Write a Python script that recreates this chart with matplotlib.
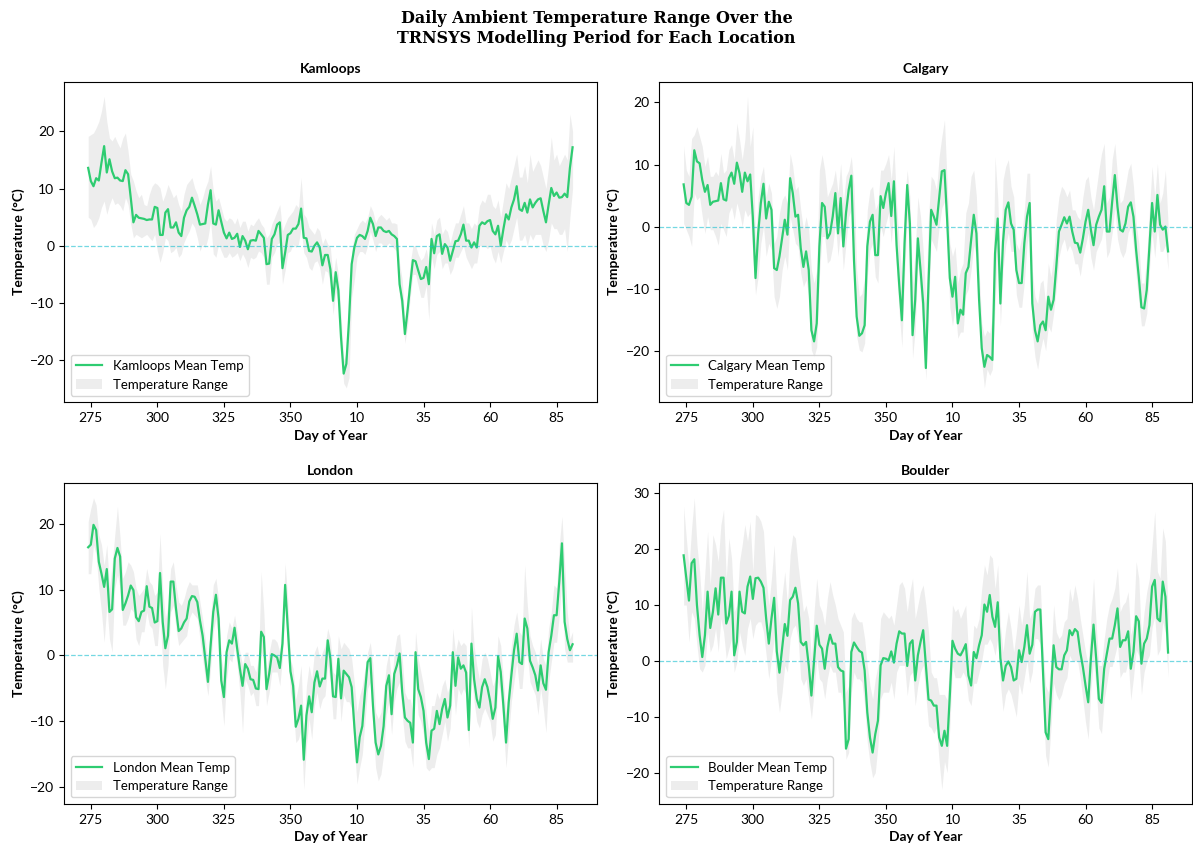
import matplotlib
matplotlib.use("Agg")
import matplotlib.pyplot as plt

plt.rcParams["font.family"] = ["Lato", "DejaVu Sans"]

####################################################
# Data (daily values, day 274 -> day 456)
####################################################

days = list(range(274, 457))

tick_pos = [275, 300, 325, 350, 375, 400, 425, 450]
tick_labels = ["275", "300", "325", "350", "10", "35", "60", "85"]

kamloops_mean = [
    13.6, 11.3, 10.4, 11.8, 11.4, 14.5, 17.4, 12.8, 15.1, 13.0,
    11.8, 11.9, 11.4, 11.3, 13.2, 12.5, 8.4, 4.1, 5.4, 4.9,
    4.8, 4.7, 4.5, 4.6, 4.6, 6.8, 6.6, 1.9, 1.9, 5.8,
    6.4, 3.2, 3.2, 4.1, 2.3, 1.7, 4.9, 6.2, 6.8, 8.4,
    7.0, 5.5, 3.7, 3.8, 3.9, 7.2, 9.7, 3.9, 3.7, 6.2,
    4.2, 2.3, 1.3, 2.3, 1.2, 1.4, 2.1, -0.2, 1.7, 0.9,
    -0.6, 0.9, 1.0, 0.9, 2.6, 2.0, 1.4, -3.2, -3.1, 1.2,
    2.0, 3.7, 4.1, -3.9, -1.2, 1.9, 2.2, 3.0, 3.0, 3.8,
    6.5, 1.4, 1.3, -0.9, -1.0, 0.0, 0.6, -0.3, -3.4, -1.6,
    -1.6, -4.1, -9.6, -4.6, -7.8, -16.0, -22.3, -20.6, -13.0, -3.2,
    -0.3, 1.4, 1.9, 1.7, 1.2, 2.6, 4.9, 3.8, 1.7, 3.2,
    3.2, 2.6, 2.4, 2.6, 2.0, 1.7, 1.2, -6.7, -9.6, -15.4,
    -11.3, -6.7, -2.5, -2.7, -4.3, -5.8, -5.6, -3.7, -6.7, 1.2,
    -1.3, 1.7, 2.0, -1.4, 0.3, -0.3, -2.6, -0.9, 0.8, 0.9,
    2.0, 3.7, 0.9, 0.9, -0.3, 0.6, -0.3, 3.5, 4.1, 3.8,
    4.3, 4.5, 2.6, 2.0, 3.5, 0.0, 2.9, 5.5, 4.6, 6.7,
    8.1, 10.4, 6.4, 6.1, 7.5, 5.8, 8.1, 6.7, 7.5, 8.1,
    8.3, 6.1, 4.1, 7.2, 10.1, 8.7, 9.3, 8.4, 8.5, 9.1,
    8.5, 13.6, 17.2,
]
kamloops_hi = [
    19.1, 19.4, 19.7, 20.6, 21.7, 23.5, 26.1, 21.7, 18.8, 18.3,
    19.1, 18.0, 17.1, 18.8, 19.7, 16.5, 12.5, 11.3, 9.6, 8.4,
    9.0, 7.2, 7.0, 9.0, 10.4, 11.0, 10.7, 10.1, 7.8, 9.0,
    10.7, 9.6, 8.4, 9.0, 7.2, 6.1, 9.0, 10.7, 11.3, 11.9,
    10.1, 9.0, 7.2, 8.4, 10.1, 11.3, 13.9, 9.6, 7.8, 8.4,
    6.7, 4.9, 4.3, 4.9, 4.6, 3.8, 4.9, 3.2, 4.3, 4.3,
    2.6, 3.8, 3.5, 4.3, 4.9, 3.8, 3.2, 1.4, 2.0, 3.8,
    4.9, 6.1, 7.2, 2.6, 3.8, 4.9, 5.5, 6.1, 7.2, 6.7,
    11.9, 5.5, 4.9, 3.2, 2.6, 2.0, 3.2, 2.6, 0.3, 1.4,
    0.3, -0.3, -5.5, -2.0, -5.0, -12.0, -20.0, -18.5, -10.0, -1.0,
    2.0, 3.0, 4.0, 4.5, 4.0, 5.0, 7.0, 6.0, 4.0, 5.0,
    5.5, 5.0, 4.5, 5.0, 4.0, 4.0, 3.8, -3.0, -6.0, -13.0,
    -8.0, -3.0, 0.0, 0.0, -1.5, -2.5, -2.0, -0.5, -3.0, 4.0,
    2.0, 4.5, 5.0, 2.0, 3.0, 2.5, 0.5, 2.5, 4.0, 4.0,
    5.5, 7.0, 4.0, 4.0, 3.0, 4.0, 3.5, 7.0, 8.0, 7.5,
    9.0, 9.0, 7.0, 6.5, 8.0, 5.0, 8.0, 11.0, 10.0, 12.0,
    14.0, 16.0, 12.0, 12.0, 14.0, 11.0, 16.0, 13.0, 14.0, 15.0,
    14.0, 12.0, 10.0, 14.0, 19.0, 15.0, 16.0, 14.0, 15.0, 16.0,
    15.0, 23.0, 20.0,
]
kamloops_lo = [
    5.0, 4.6, 3.2, 3.8, 4.9, 6.7, 7.8, 5.5, 7.2, 8.4,
    7.2, 7.5, 7.0, 6.1, 8.4, 7.2, 3.8, 1.4, 2.0, 1.7,
    1.4, 1.7, 2.0, 1.4, 0.9, 2.0, -0.9, -2.9, -1.2, 1.4,
    0.9, -1.2, -0.9, -0.3, -2.0, -1.4, 0.6, 1.7, 2.6, 4.0,
    3.2, 1.4, -0.9, 0.3, -0.3, 1.4, 4.3, -1.4, -2.0, 0.3,
    -0.9, -2.0, -2.0, -1.2, -2.0, -1.7, -1.2, -2.6, -1.4, -2.3,
    -3.8, -2.0, -2.3, -2.0, -0.9, -1.2, -2.0, -6.7, -6.7, -2.0,
    -1.2, 0.3, 0.6, -6.7, -4.3, -1.2, -0.9, 0.3, -0.3, 0.3,
    3.2, -1.2, -2.0, -3.8, -4.3, -2.9, -2.6, -3.8, -6.7, -4.3,
    -4.6, -6.7, -12.0, -8.0, -10.0, -18.0, -24.0, -24.8, -23.0, -9.0,
    -6.0, -2.0, -1.0, -1.0, -1.5, 0.0, 2.5, 1.0, -1.0, 0.5,
    0.5, 0.0, 0.0, 0.5, 0.0, -0.5, -1.0, -9.0, -12.0, -17.0,
    -14.0, -9.0, -5.0, -5.0, -7.0, -9.0, -9.0, -7.0, -13.0, -2.0,
    -4.0, -1.5, -1.0, -4.0, -3.0, -3.0, -5.0, -4.0, -2.0, -2.0,
    -1.0, 0.0, -2.0, -3.0, -4.0, -3.0, -3.0, 0.0, 0.0, 0.0,
    -0.5, 0.0, -2.0, -3.0, -1.0, -3.0, -1.0, 1.0, 0.0, 1.0,
    3.0, 5.0, 1.0, 1.0, 2.0, 0.0, 2.0, 1.0, 2.0, 2.0,
    2.0, 0.0, -1.0, 1.0, 4.0, 3.0, 3.0, 2.0, 2.0, 3.0,
    -1.0, 5.0, 10.0,
]

calgary_mean = [
    6.8, 3.8, 3.5, 4.8, 12.3, 10.5, 10.2, 7.5, 5.6, 6.7,
    3.5, 4.0, 4.1, 4.2, 7.0, 4.4, 4.2, 7.8, 8.7, 6.9,
    10.3, 8.6, 5.6, 8.7, 7.3, 8.4, 1.5, -8.3, -1.1, 3.8,
    6.9, 1.3, 4.0, 2.7, -6.7, -7.0, -4.8, -1.9, 1.1, -1.3,
    7.8, 5.4, 1.6, 1.9, -3.5, -6.5, -4.0, -7.0, -16.7, -18.5,
    -15.6, -3.2, 3.8, 3.2, -1.9, -1.1, 1.6, 5.4, -1.1, 4.6,
    -3.2, 2.2, 5.9, 8.2, -5.4, -14.5, -17.6, -17.2, -15.9, -3.2,
    0.8, 1.9, -4.6, -4.6, 4.9, 3.0, 5.4, 7.0, 1.7, 7.3,
    -3.0, -9.4, -15.1, -2.7, 6.7, 0.5, -17.5, -11.8, -1.9, -7.0,
    -12.4, -22.8, -9.1, 2.7, 1.6, 0.3, 4.6, 8.9, 9.1, 1.1,
    -8.3, -11.3, -8.1, -15.6, -13.4, -14.2, -7.5, -6.5, -2.2, 1.9,
    -1.1, -11.8, -19.6, -22.6, -20.7, -21.0, -21.5, -4.3, 1.3, -12.4,
    -2.4, 2.7, 3.9, 0.5, -0.5, -7.0, -9.1, -9.1, -2.7, 1.6,
    3.8, -12.4, -16.7, -18.5, -15.9, -15.3, -16.7, -11.3, -13.4, -11.8,
    -6.5, -0.8, 0.3, 1.5, 0.5, 1.6, -0.8, -2.6, -2.7, -4.2,
    -1.9, 0.8, 2.7, -0.5, -3.0, 0.3, 1.6, 2.7, 6.5, -0.8,
    -0.8, 4.0, 8.3, 3.2, -0.5, -0.8, 0.5, 3.2, 3.9, 1.6,
    -3.8, -8.1, -13.0, -13.2, -10.2, -3.2, 3.8, -0.8, 5.1, 0.3,
    -0.5, 0.0, -4.0,
]
calgary_hi = [
    13.0, 9.1, 8.1, 14.2, 14.8, 16.1, 14.5, 12.9, 9.7, 11.3,
    8.1, 8.1, 8.9, 8.2, 11.8, 8.6, 9.1, 12.4, 13.2, 10.8,
    16.7, 14.0, 10.8, 14.0, 21.0, 12.9, 16.1, -2.7, 4.8, 8.1,
    9.7, 4.8, 7.0, 5.4, -2.7, -1.6, 2.2, 4.3, 5.1, 3.8,
    11.8, 9.7, 5.9, 6.5, 2.7, -0.5, 1.6, -0.5, -7.0, -9.1,
    -7.0, 9.1, 11.6, 9.1, 4.8, 5.9, 7.0, 9.1, 5.4, 10.2,
    3.8, 8.1, 9.1, 11.3, 6.5, -7.0, -11.3, -10.8, -8.1, 2.7,
    5.9, 6.5, 2.7, 3.8, 9.1, 9.1, 10.2, 11.6, 7.5, 12.9,
    3.8, -2.7, -8.1, 4.3, 9.1, 4.8, -9.1, -3.8, 4.8, 1.6,
    -3.8, -11.8, 1.6, 8.1, 7.5, 5.9, 11.3, 14.5, 17.2, 7.0,
    -2.7, -4.8, -3.2, -9.1, -7.0, -5.9, 2.2, 3.8, 8.1, 9.1,
    4.8, -7.0, -15.6, -17.7, -16.7, -17.2, -14.5, 11.3, 4.8, -7.0,
    7.5, 9.7, 10.8, 6.5, 4.8, -2.7, -3.8, -1.6, 2.7, 8.6,
    8.6, -7.0, -11.3, -12.4, -9.1, -8.6, -12.4, -5.9, -8.1, -4.8,
    1.1, 4.8, 6.5, 5.9, 4.8, 5.9, 2.7, 2.7, 1.6, 1.1,
    4.8, 7.5, 8.1, 4.8, 2.7, 5.9, 9.1, 11.8, 13.4, 3.8,
    4.8, 10.8, 13.4, 8.1, 3.8, 4.3, 6.5, 9.1, 10.2, 6.5,
    0.5, -2.7, -9.1, -9.1, -4.8, 2.7, 9.7, 4.8, 10.2, 3.8,
    5.4, 9.1, 0.5,
]
calgary_lo = [
    0.5, -0.5, -1.6, -3.2, 5.4, 4.3, 4.8, 1.6, -1.1, 1.6,
    -0.5, -0.5, -1.6, -3.0, 0.5, -0.5, -1.6, 2.2, 3.2, 1.1,
    3.8, 2.2, 0.0, 2.7, 1.6, 2.2, -4.8, -11.0, -8.1, -2.7,
    0.0, -4.8, -2.7, -3.8, -11.3, -13.2, -11.3, -7.0, -4.8, -7.0,
    1.6, -0.5, -2.7, -3.2, -7.5, -9.7, -8.6, -11.3, -19.9, -21.0,
    -19.4, -8.1, -1.6, -1.6, -5.9, -5.4, -3.2, 0.5, -4.8, -0.5,
    -7.0, -2.7, 1.6, 2.7, -9.1, -17.7, -19.9, -20.2, -18.8, -8.1,
    -3.8, -2.7, -8.1, -9.1, 0.0, -1.6, 0.5, 2.2, -2.7, 2.7,
    -7.0, -14.0, -19.4, -8.1, 1.6, -4.8, -21.2, -16.7, -5.9, -11.3,
    -16.7, -24.7, -13.4, -2.0, -3.0, -4.0, 0.0, 3.0, 4.0, -3.0,
    -13.0, -16.0, -13.0, -18.0, -17.0, -17.0, -11.0, -10.0, -7.0, -3.0,
    -5.0, -15.0, -22.0, -26.0, -23.0, -24.0, -23.0, -13.0, -3.0, -16.0,
    -7.0, -3.0, -1.0, -4.0, -4.0, -11.0, -13.0, -13.0, -9.0, -3.0,
    0.0, -17.0, -21.0, -23.0, -20.0, -18.0, -20.0, -16.0, -17.0, -14.0,
    -10.0, -5.0, -3.0, -2.0, -4.0, -3.0, -4.0, -6.0, -6.0, -8.0,
    -5.0, -3.0, -1.0, -5.0, -7.0, -4.0, -3.0, -2.0, 1.0, -5.0,
    -4.0, -1.0, 3.0, -2.0, -4.0, -5.0, -4.0, -1.0, 0.0, -3.0,
    -8.0, -12.0, -16.0, -16.0, -14.0, -7.0, -1.0, -5.0, 0.0, -4.0,
    -4.0, -3.0, -7.0,
]

london_mean = [
    16.4, 16.8, 19.8, 19.0, 14.2, 12.4, 10.4, 13.1, 6.6, 7.0,
    14.7, 16.3, 15.0, 6.9, 7.9, 9.1, 10.6, 9.9, 5.8, 5.2,
    6.6, 6.8, 10.5, 7.4, 7.2, 5.0, 5.2, 12.5, 5.1, 1.1,
    3.0, 11.2, 11.2, 7.1, 3.7, 4.1, 5.0, 5.6, 8.2, 9.0,
    8.9, 8.1, 5.3, 3.0, -0.5, -4.0, 1.5, 6.6, 9.2, 5.6,
    -3.8, -6.3, 0.5, 2.3, 1.8, 4.2, 1.0, -2.0, -4.6, -1.3,
    -2.0, -3.6, -3.7, -5.0, -5.1, 3.6, 2.8, -5.1, -2.8, 0.2,
    0.0, -0.3, -1.9, 1.8, 10.7, 4.1, -2.4, -4.6, -10.8, -9.6,
    -7.6, -15.8, -9.1, -6.2, -8.6, -4.1, -2.4, -4.7, -3.5, -3.5,
    2.3, -0.5, -6.2, -6.3, -0.5, -6.5, -2.3, -2.8, -3.3, -4.8,
    -10.7, -16.2, -12.4, -10.7, -5.6, -1.0, -0.4, -7.6, -13.2, -15.0,
    -13.7, -10.7, -4.6, -3.0, -8.9, -2.8, -1.5, 0.3, -5.6, -9.4,
    -9.9, -10.2, -13.2, 0.5, -5.1, -6.3, -8.4, -13.2, -15.7, -11.4,
    -11.1, -8.4, -10.4, -8.1, -6.6, -9.4, -7.6, 0.5, -4.6, -0.3,
    -2.0, -1.5, -2.6, -11.3, 1.8, -3.6, -6.6, -7.9, -4.8, -3.6,
    -4.8, -6.9, -9.6, -7.9, -0.1, -2.5, -7.6, -13.2, -7.1, -3.0,
    0.8, 3.3, -1.0, -1.3, 5.6, 4.1, -0.8, -1.8, -3.0, -5.3,
    -1.5, -4.2, -5.2, 0.5, 3.0, 6.1, 6.1, 11.2, 17.0, 5.1,
    2.5, 0.8, 1.7,
]
london_hi = [
    20.3, 22.3, 23.9, 22.8, 18.3, 16.8, 13.7, 16.8, 10.2, 13.7,
    18.3, 22.6, 17.8, 11.7, 12.7, 14.2, 13.7, 12.7, 10.2, 9.1,
    9.6, 10.2, 13.2, 11.2, 10.7, 9.1, 9.6, 18.5, 10.2, 5.6,
    7.6, 13.2, 14.2, 10.7, 8.1, 7.6, 8.6, 10.2, 11.2, 10.7,
    10.7, 10.7, 8.1, 5.6, 2.5, -1.5, 5.6, 10.7, 11.7, 8.6,
    -0.5, -2.5, 3.0, 5.1, 4.1, 6.1, 3.6, 0.5, -1.5, 0.5,
    0.5, -1.5, -1.5, -2.5, -0.5, 12.7, 6.6, -2.5, 0.5, 2.5,
    2.5, 2.0, 0.5, 5.1, 14.0, 8.6, -0.5, -2.0, -6.6, -4.6,
    -1.5, -11.7, -4.6, -1.5, -3.6, 0.5, 1.5, -0.5, 0.5, 1.5,
    4.1, 2.5, -2.5, -3.0, 3.0, 1.0, 2.0, 1.5, 1.0, -0.5,
    -4.1, -8.6, -6.1, -4.6, -2.0, 0.5, 2.0, -1.5, -8.6, -9.6,
    -8.6, -5.6, -1.5, 0.5, -4.6, 0.5, 3.0, 3.3, -0.5, -5.6,
    -6.6, -6.6, -8.6, 3.6, -0.5, -2.5, -4.6, -8.6, -11.7, -7.6,
    -7.6, -5.6, -6.6, -4.6, -3.6, -5.6, -4.6, 4.1, 0.5, 2.5,
    1.5, 2.0, 1.5, -6.6, 7.4, 1.5, -1.5, -3.6, -0.5, 0.5,
    -0.5, -2.5, -4.6, -3.6, 3.0, 1.5, -3.6, -8.6, -3.6, 1.5,
    4.6, 6.6, 3.6, 3.0, 13.7, 7.6, 3.0, 1.5, 0.5, -1.5,
    2.5, -0.5, -1.5, 4.1, 6.6, 10.7, 10.2, 16.8, 21.1, 14.0,
    6.6, 2.5, 3.6,
]
london_lo = [
    12.4, 12.4, 16.8, 15.2, 10.2, 6.6, 2.0, 7.6, 2.5, 0.5,
    10.2, 12.2, 10.2, 4.6, 4.6, 5.6, 7.1, 6.6, 2.5, 1.5,
    3.6, 3.6, 6.6, 4.6, 4.1, 1.5, 1.5, 6.6, -1.5, -5.1,
    -1.5, 6.6, 7.6, 4.1, 1.5, 2.0, 2.5, 3.0, 5.6, 6.6,
    6.1, 5.6, 2.5, -0.5, -3.6, -6.1, -2.0, 3.6, 5.6, 2.5,
    -6.6, -10.7, -3.6, -0.5, -1.0, 1.5, -1.5, -5.6, -11.7, -3.6,
    -4.6, -6.1, -5.6, -7.6, -7.6, 0.5, -0.5, -7.6, -5.6, -2.5,
    -2.5, -2.5, -4.6, -0.5, 7.6, 0.5, -5.6, -7.6, -13.2, -12.7,
    -11.2, -20.3, -13.7, -9.6, -12.7, -7.6, -5.6, -8.1, -6.6, -6.1,
    -1.5, -4.1, -9.6, -9.6, -3.6, -10.0, -6.0, -7.0, -7.0, -8.0,
    -14.0, -19.5, -17.0, -15.0, -10.0, -5.0, -4.0, -11.0, -17.0, -19.0,
    -18.0, -15.0, -9.0, -7.0, -12.0, -7.0, -5.0, -4.0, -9.0, -13.0,
    -14.0, -14.0, -17.0, -4.0, -9.0, -10.0, -12.0, -17.0, -17.5, -17.0,
    -17.0, -15.0, -14.0, -12.0, -10.0, -13.0, -11.0, -4.0, -9.0, -5.0,
    -6.0, -5.0, -6.0, -14.0, -3.0, -7.0, -10.0, -11.0, -9.0, -8.0,
    -9.0, -10.0, -13.0, -12.0, -4.0, -6.0, -11.0, -17.0, -12.0, -7.0,
    -4.0, -1.0, -5.0, -5.0, 0.0, 0.0, -4.0, -5.0, -6.0, -9.0,
    -5.0, -8.0, -11.7, -4.0, -1.0, 2.0, 2.0, 6.0, 12.0, 1.0,
    -1.0, -1.0, -1.0,
]

boulder_mean = [
    18.9, 14.8, 10.8, 17.5, 18.2, 10.0, 4.6, 0.7, 4.6, 12.4,
    5.9, 8.8, 13.0, 8.3, 14.9, 14.9, 6.7, 8.1, 12.4, 1.0,
    3.4, 12.4, 8.8, 8.5, 13.3, 15.1, 11.1, 14.8, 14.9, 14.2,
    13.1, 7.6, 3.1, 7.6, 11.3, 1.7, -2.1, 2.2, 6.6, 4.5,
    10.9, 11.5, 13.1, 10.3, 3.4, 2.8, 3.4, -0.8, -6.2, 0.1,
    6.3, 2.9, 2.2, -1.4, 2.5, 4.7, 3.1, 3.1, -1.1, -1.7,
    -1.9, -15.7, -14.0, 1.6, 3.3, 2.5, 1.8, 1.5, -1.7, -9.2,
    -13.7, -16.4, -13.1, -10.7, -0.8, 0.5, 0.4, 0.1, 1.7, -0.3,
    3.1, 5.3, 4.9, 4.9, -0.9, 3.1, 3.7, -3.5, 1.0, 3.4,
    5.5, -0.8, -6.9, -7.1, -8.0, -8.0, -13.7, -15.2, -12.5, -15.2,
    -6.2, 3.6, 2.2, 1.3, 1.0, 1.9, 3.0, -2.6, -4.4, 1.6,
    0.5, 2.8, 4.6, 10.1, 8.8, 11.8, 7.9, 6.1, 10.5, 0.5,
    -3.5, -0.9, -0.1, -1.1, -3.5, -3.2, 1.9, -0.2, 2.5, 6.4,
    1.3, 2.9, 8.8, 9.2, 9.2, -2.0, -12.8, -14.0, -5.6, 2.8,
    -1.1, -1.5, -1.5, 1.0, 1.9, 5.5, 4.6, 5.7, 5.2, 1.6,
    -1.1, -4.4, -7.4, 0.4, 6.5, 0.4, -6.8, -7.5, -1.4, 1.3,
    4.0, 4.0, 6.4, 9.4, 2.5, 3.7, 3.7, 5.3, -1.4, 1.6,
    8.0, 7.1, -0.5, 3.1, 4.0, 6.4, 13.3, 14.5, 7.6, 7.1,
    14.2, 11.5, 1.5,
]
boulder_hi = [
    27.7, 22.0, 16.6, 23.8, 29.2, 20.8, 16.0, 8.8, 16.0, 23.2,
    13.6, 22.6, 20.8, 17.8, 24.4, 27.1, 14.8, 22.0, 18.4, 8.8,
    10.0, 17.8, 20.8, 24.4, 21.4, 25.0, 16.0, 26.2, 25.9, 25.0,
    23.2, 14.8, 10.0, 14.8, 20.8, 11.2, 6.4, 11.8, 16.0, 10.0,
    19.0, 22.6, 22.0, 17.2, 13.0, 8.8, 10.0, 7.6, 0.4, 8.8,
    14.8, 10.0, 8.8, 6.4, 11.2, 14.2, 11.8, 10.0, 7.6, 6.4,
    5.2, -5.6, -4.4, 7.6, 8.8, 7.6, 7.0, 7.0, 4.0, -0.8,
    -4.4, -6.8, -3.2, -0.8, 7.6, 8.8, 8.2, 7.6, 8.2, 6.4,
    10.0, 13.6, 14.2, 13.0, 8.8, 12.4, 14.8, 7.6, 10.0, 12.4,
    13.6, 10.0, 5.2, -2.0, -3.0, -3.0, -6.0, -6.0, -6.0, -7.0,
    0.0, 10.0, 8.8, 9.4, 7.6, 8.8, 10.0, 1.6, -0.8, 6.4,
    5.8, 7.6, 13.0, 17.2, 15.4, 19.0, 18.4, 13.0, 17.2, 6.4,
    1.6, 5.8, 8.8, 5.8, 1.6, 5.2, 10.0, 6.4, 10.0, 16.0,
    7.6, 8.8, 13.0, 13.6, 13.6, 2.8, -4.4, -5.6, 0.4, 10.0,
    5.2, 4.0, 4.6, 7.0, 7.6, 13.0, 10.6, 13.6, 11.2, 7.6,
    4.6, 1.6, -0.8, 7.6, 14.8, 6.4, -0.8, -0.8, 4.0, 7.6,
    10.0, 11.2, 13.0, 16.6, 8.8, 10.0, 10.6, 12.4, 4.6, 7.0,
    17.8, 14.8, 4.0, 8.8, 12.4, 14.8, 20.8, 26.8, 16.0, 14.8,
    23.8, 21.4, 8.8,
]
boulder_lo = [
    10.0, 10.0, 3.4, 8.8, 7.6, 2.8, -1.4, -2.0, -0.8, 5.2,
    1.6, 2.8, 5.8, 1.6, 7.6, 5.2, 0.4, 2.2, 4.0, -2.0,
    -0.2, 5.2, 2.8, 1.0, 5.8, 7.6, 4.0, 6.4, 7.0, 7.0,
    5.2, 1.0, -3.2, 0.4, 4.0, -5.6, -9.2, -5.6, -0.8, -2.0,
    4.0, 5.8, 6.4, 4.0, -3.2, -4.4, -3.2, -6.8, -10.4, -5.6,
    0.4, -3.2, -3.8, -6.8, -3.2, -0.8, -2.0, -2.0, -5.6, -5.6,
    -8.0, -17.6, -16.4, -5.6, -2.0, -3.2, -3.2, -3.8, -8.0, -14.6,
    -18.2, -20.9, -20.0, -15.2, -6.8, -5.6, -5.6, -5.6, -3.8, -6.8,
    -2.0, -0.8, -0.8, -0.8, -6.2, -2.6, -2.0, -8.0, -4.4, -2.0,
    -0.8, -6.2, -11.6, -12.0, -13.0, -12.0, -18.0, -23.0, -18.0, -20.0,
    -12.0, -1.0, -3.0, -3.0, -3.0, -2.0, -3.0, -7.0, -8.0, -4.0,
    -4.0, -2.0, 0.0, 3.0, 3.0, 4.0, 3.0, 1.0, 4.0, -4.0,
    -9.0, -6.0, -5.0, -6.0, -8.0, -10.0, -4.0, -6.0, -3.0, 0.0,
    -4.0, -2.0, 4.0, 4.0, 3.0, -7.0, -17.0, -19.0, -12.0, -4.0,
    -6.0, -7.0, -6.0, -4.0, -3.0, 1.0, 0.0, 0.0, 0.0, -3.0,
    -7.0, -11.0, -14.0, -5.0, 0.0, -5.0, -12.0, -13.0, -7.0, -4.0,
    -1.0, -1.0, 1.0, 3.0, -3.0, -2.0, -2.0, 0.0, -7.0, -3.0,
    2.0, 1.0, -6.0, -2.0, 0.0, 1.0, 6.0, 8.0, 1.0, 2.0,
    7.0, 5.0, -3.0,
]

locations = ["Kamloops", "Calgary", "London", "Boulder"]
means = [kamloops_mean, calgary_mean, london_mean, boulder_mean]
highs = [kamloops_hi, calgary_hi, london_hi, boulder_hi]
lows = [kamloops_lo, calgary_lo, london_lo, boulder_lo]

####################################################
# Plot
####################################################

fig, axes = plt.subplots(2, 2, figsize=(11.93, 8.44), dpi=100)
fig.subplots_adjust(left=0.0536, right=0.9994, top=0.9032, bottom=0.0474,
                    wspace=0.1175, hspace=0.2517)

fig.suptitle(
    "Daily Ambient Temperature Range Over the\nTRNSYS Modelling Period for Each Location",
    fontsize=11.5,
    fontweight="bold",
    family=["DejaVu Serif"],
    y=0.988,
    va="top",
    linespacing=1.2,
)

for ax, name, mean, hi, lo in zip(axes.flat, locations, means, highs, lows):

    ax.fill_between(days, lo, hi, color="lightgray", alpha=0.4,
                    linewidth=0, label="Temperature Range")
    ax.plot(days, mean, color="#2ecc71", linewidth=1.6,
            label=f"{name} Mean Temp")
    ax.axhline(0, color="#17becf", linestyle="--", linewidth=0.9, alpha=0.6)

    ax.set_title(name, fontsize=10, fontweight="bold")
    ax.set_xlabel("Day of Year", fontsize=10, fontweight="bold")
    ax.set_ylabel("Temperature (°C)", fontsize=10, fontweight="bold")

    ax.set_xticks(tick_pos)
    ax.set_xticklabels(tick_labels)
    ax.tick_params(labelsize=10)

    handles, labels = ax.get_legend_handles_labels()
    ax.legend(handles[::-1], labels[::-1], loc="lower left", fontsize=9.5)

plt.savefig("out.png", dpi=100)
